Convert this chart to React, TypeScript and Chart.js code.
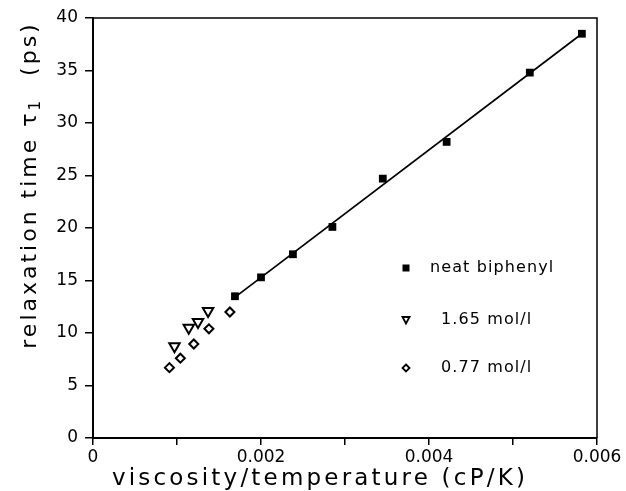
import React, { useEffect, useRef } from 'react';
import { Chart, registerables } from 'chart.js';

Chart.register(...registerables);

// ---- data ----
const neatX = [0.00169, 0.002, 0.00238, 0.00285, 0.00345, 0.00421, 0.0052, 0.00582];
const neatY = [13.5, 15.3, 17.5, 20.1, 24.7, 28.2, 34.8, 38.5];
const fitX = [0.00168, 0.00582];
const fitY = [13.35, 38.5];
const mol165X = [0.00097, 0.00114, 0.00125, 0.00137];
const mol165Y = [8.75, 10.5, 11.05, 12.1];
const mol077X = [0.00091, 0.00104, 0.0012, 0.00138, 0.00163];
const mol077Y = [6.7, 7.6, 8.95, 10.4, 12.0];
const xTicks = [0, 0.001, 0.002, 0.003, 0.004, 0.005, 0.006];
const xTickLabels = ['0', '', '0.002', '', '0.004', '', '0.006'];
const yTicks = [0, 5, 10, 15, 20, 25, 30, 35, 40];
const seriesLabels = ['neat biphenyl', '1.65 mol/l', '0.77 mol/l'];
const xTitle = 'viscosity/temperature (cP/K)';
const yTitleMain = 'relaxation time τ';
const yTitleSub = '1';
const yTitleUnit = '(ps)';

const FONT = '"DejaVu Sans", sans-serif';

const pts = (xs: number[], ys: number[]) => xs.map((x, i) => ({ x, y: ys[i] }));

const framePlugin = {
  id: 'frame',
  afterDraw(chart: any) {
    const { ctx, chartArea: a } = chart;
    ctx.save();
    ctx.strokeStyle = '#000';
    ctx.lineWidth = 1.5;
    ctx.beginPath();
    ctx.moveTo(a.left, a.top);
    ctx.lineTo(a.right, a.top);
    ctx.lineTo(a.right, a.bottom);
    ctx.stroke();
    ctx.restore();
  },
};

const titlesPlugin = {
  id: 'titles',
  afterDraw(chart: any) {
    const { ctx } = chart;
    ctx.save();
    ctx.fillStyle = '#000';
    // x title
    ctx.font = `23px ${FONT}`;
    (ctx as any).letterSpacing = '3.2px';
    ctx.textAlign = 'center';
    ctx.textBaseline = 'middle';
    ctx.fillText(xTitle, 320, 479);
    // y title (rotated)
    ctx.font = `22px ${FONT}`;
    (ctx as any).letterSpacing = '3px';
    ctx.translate(30, 185);
    ctx.rotate(-Math.PI / 2);
    ctx.textAlign = 'left';
    const wMain = ctx.measureText(yTitleMain).width;
    ctx.font = `15px ${FONT}`;
    const wSub = ctx.measureText(yTitleSub).width;
    ctx.font = `22px ${FONT}`;
    const wUnit = ctx.measureText(yTitleUnit).width;
    const gap = 22;
    const total = wMain + wSub + gap + wUnit;
    let x = -total / 2;
    ctx.fillText(yTitleMain, x, 0);
    x += wMain;
    ctx.font = `15px ${FONT}`;
    ctx.fillText(yTitleSub, x, 6);
    x += wSub + gap;
    ctx.font = `22px ${FONT}`;
    ctx.fillText(yTitleUnit, x, 0);
    ctx.restore();
  },
};

const legendPlugin = {
  id: 'customLegend',
  afterDraw(chart: any) {
    const { ctx, chartArea: a } = chart;
    const mx = a.left + 313;
    const rows = [a.top + 250, a.top + 302, a.top + 350];
    const tx = [a.left + 337, a.left + 348, a.left + 348];
    ctx.save();
    ctx.fillStyle = '#000';
    ctx.strokeStyle = '#000';
    ctx.lineWidth = 1.8;
    // square
    ctx.fillRect(mx - 3.5, rows[0] - 3.5, 7, 7);
    // down triangle
    ctx.beginPath();
    ctx.moveTo(mx - 3.5, rows[1] - 3);
    ctx.lineTo(mx + 3.5, rows[1] - 3);
    ctx.lineTo(mx, rows[1] + 3.5);
    ctx.closePath();
    ctx.stroke();
    // diamond
    ctx.beginPath();
    ctx.moveTo(mx, rows[2] - 3.5);
    ctx.lineTo(mx + 3.5, rows[2]);
    ctx.lineTo(mx, rows[2] + 3.5);
    ctx.lineTo(mx - 3.5, rows[2]);
    ctx.closePath();
    ctx.stroke();
    ctx.font = `16px ${FONT}`;
    (ctx as any).letterSpacing = '1.1px';
    ctx.textAlign = 'left';
    ctx.textBaseline = 'middle';
    seriesLabels.forEach((t, i) => ctx.fillText(t, tx[i], rows[i]));
    ctx.restore();
  },
};

export default function App() {
  const ref = useRef<HTMLCanvasElement | null>(null);
  useEffect(() => {
    document.body.style.margin = '0';
    if (!ref.current) return;
    const chart = new Chart(ref.current, {
      type: 'scatter',
      data: {
        datasets: [
          {
            label: 'fit',
            data: pts(fitX, fitY),
            showLine: true,
            pointRadius: 0,
            borderColor: '#000',
            borderWidth: 1.7,
          },
          {
            label: seriesLabels[0],
            data: pts(neatX, neatY),
            pointStyle: 'rect',
            pointRadius: 5.5,
            backgroundColor: '#000',
            borderColor: '#000',
            borderWidth: 0,
          },
          {
            label: seriesLabels[1],
            data: pts(mol165X, mol165Y),
            pointStyle: 'triangle',
            rotation: 180,
            pointRadius: 6,
            backgroundColor: '#fff',
            borderColor: '#000',
            borderWidth: 2,
          },
          {
            label: seriesLabels[2],
            data: pts(mol077X, mol077Y),
            pointStyle: 'rectRot',
            pointRadius: 4.5,
            backgroundColor: '#fff',
            borderColor: '#000',
            borderWidth: 2,
          },
        ] as any,
      },
      options: {
        animation: false,
        responsive: false,
        maintainAspectRatio: false,
        layout: { padding: { top: 18, right: 29, left: 0, bottom: 0 } },
        plugins: { legend: { display: false }, tooltip: { enabled: false } },
        scales: {
          x: {
            type: 'linear',
            min: 0,
            max: 0.006,
            afterBuildTicks: (s: any) => {
              s.ticks = xTicks.map((v) => ({ value: v }));
            },
            afterFit: (s: any) => {
              s.height = 53;
            },
            ticks: {
              autoSkip: false,
              maxRotation: 0,
              color: '#000',
              padding: 2,
              font: { family: FONT, size: 17 },
              callback: (_v: any, i: number) => xTickLabels[i],
            },
            grid: { drawOnChartArea: false, tickLength: 7, color: '#000', lineWidth: 1.5 },
            border: { color: '#000', width: 2 },
          },
          y: {
            type: 'linear',
            min: 0,
            max: 40,
            afterBuildTicks: (s: any) => {
              s.ticks = yTicks.map((v) => ({ value: v }));
            },
            afterFit: (s: any) => {
              s.width = 93;
            },
            ticks: {
              color: '#000',
              padding: 7,
              font: { family: FONT, size: 17 },
              callback: (v: any) => String(v),
            },
            grid: { drawOnChartArea: false, tickLength: 8, color: '#000', lineWidth: 1.5 },
            border: { color: '#000', width: 2 },
          },
        },
      },
      plugins: [framePlugin, titlesPlugin, legendPlugin],
    } as any);
    return () => chart.destroy();
  }, []);
  return (
    <div style={{ width: 626, height: 491 }}>
      <canvas ref={ref} width={626} height={491} style={{ display: 'block' }} />
    </div>
  );
}
